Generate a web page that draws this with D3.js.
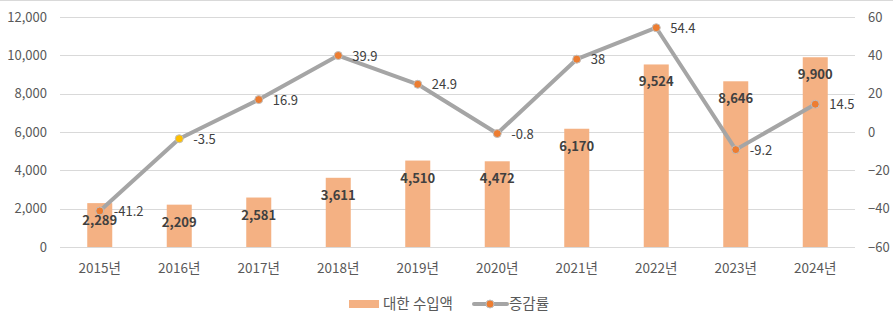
<!DOCTYPE html>
<html><head><meta charset="utf-8">
<script src="https://cdn.jsdelivr.net/npm/d3@7"></script>
<style>
body{margin:0;background:#fff;}
text{font-family:"Noto Sans CJK KR","Noto Sans",sans-serif;}
</style></head>
<body><svg id="c" width="893" height="324"></svg>
<script>
const years = ["2015년","2016년","2017년","2018년","2019년","2020년","2021년","2022년","2023년","2024년"];
const importValues = [2289, 2209, 2581, 3611, 4510, 4472, 6170, 9524, 8646, 9900];
const rateValues = [-41.2, -3.5, 16.9, 39.9, 24.9, -0.8, 38, 54.4, -9.2, 14.5];
const leftTicks = [0, 2000, 4000, 6000, 8000, 10000, 12000];
const rightTicks = [-60, -40, -20, 0, 20, 40, 60];
const seriesNames = ["대한 수입액", "증감률"];

const svg = d3.select("#c");
const W = 893, H = 324;
const m = {l:60, r:38, t:17, b:77};
const x = d3.scaleBand().domain(years).range([m.l, W - m.r]);
const yL = d3.scaleLinear().domain([0, 12000]).range([H - m.b, m.t]);
const yR = d3.scaleLinear().domain([-60, 60]).range([H - m.b, m.t]);

svg.append("line").attr("x1",0).attr("x2",W).attr("y1",0.5).attr("y2",0.5).attr("stroke","#d9d9d9");

// grid
svg.append("g").selectAll("line").data(leftTicks).join("line")
  .attr("x1", m.l).attr("x2", W - m.r)
  .attr("y1", d => Math.round(yL(d)) + 0.5).attr("y2", d => Math.round(yL(d)) + 0.5)
  .attr("stroke", "#d9d9d9").attr("stroke-width", 1);

// left axis
const ax = d3.axisLeft(yL).tickValues(leftTicks).tickFormat(d3.format(",")).tickSize(0).tickPadding(13);
const gL = svg.append("g").attr("transform", `translate(${m.l},0)`).call(ax);
gL.select(".domain").remove();
gL.selectAll("text").attr("fill","#595959").style("font-size","13px");

const axR = d3.axisRight(yR).tickValues(rightTicks).tickSize(0).tickPadding(13);
const gR = svg.append("g").attr("transform", `translate(${W - m.r},0)`).call(axR);
gR.select(".domain").remove();
gR.selectAll("text").attr("fill","#595959").style("font-size","13px");

const axB = d3.axisBottom(x).tickSize(0).tickPadding(16);
const gB = svg.append("g").attr("transform", `translate(0,${H - m.b})`).call(axB);
gB.select(".domain").remove();
gB.selectAll("text").attr("fill","#595959").style("font-size","13.5px");

// bars
const bw = 25;
svg.append("g").selectAll("rect").data(importValues).join("rect")
  .attr("x", (d,i) => x(years[i]) + x.bandwidth()/2 - bw/2)
  .attr("width", bw)
  .attr("y", d => yL(d))
  .attr("height", d => yL(0) - yL(d))
  .attr("fill", "#f4b183");

// line
const line = d3.line().x((d,i) => x(years[i]) + x.bandwidth()/2).y(d => yR(d));
svg.append("path").datum(rateValues).attr("d", line)
  .attr("fill","none").attr("stroke","#a5a5a5").attr("stroke-width",4).attr("stroke-linejoin","round");

svg.append("g").selectAll("circle").data(rateValues).join("circle")
  .attr("cx", (d,i) => x(years[i]) + x.bandwidth()/2)
  .attr("cy", d => yR(d))
  .attr("r", 4)
  .attr("fill", (d,i) => i === 1 ? "#ffc000" : "#ed7d31")
  .attr("stroke", "#bfbfbf").attr("stroke-width", 1);

// bar labels
svg.append("g").selectAll("text").data(importValues).join("text")
  .attr("x", (d,i) => x(years[i]) + x.bandwidth()/2)
  .attr("y", d => yL(d) + 22)
  .attr("text-anchor","middle")
  .attr("fill","#404040").style("font-size","13px").style("font-weight","bold")
  .text(d => d3.format(",")(d));

// line labels
svg.append("g").selectAll("text").data(rateValues).join("text")
  .attr("x", (d,i) => x(years[i]) + x.bandwidth()/2 + 14)
  .attr("y", d => yR(d) + 5)
  .attr("fill","#404040").style("font-size","13px")
  .text(d => d);

// legend
const lg = svg.append("g");
lg.append("rect").attr("x",349).attr("y",300).attr("width",30).attr("height",8).attr("fill","#f4b183");
lg.append("text").attr("x",383).attr("y",309).attr("fill","#595959").style("font-size","14.5px").text(seriesNames[0]);
lg.append("line").attr("x1",474).attr("x2",507).attr("y1",304).attr("y2",304).attr("stroke","#a5a5a5").attr("stroke-width",4).attr("stroke-linecap","round");
lg.append("circle").attr("cx",490).attr("cy",304).attr("r",4).attr("fill","#ed7d31").attr("stroke","#bfbfbf");
lg.append("text").attr("x",509).attr("y",309).attr("fill","#595959").style("font-size","14.5px").text(seriesNames[1]);
</script></body></html>
